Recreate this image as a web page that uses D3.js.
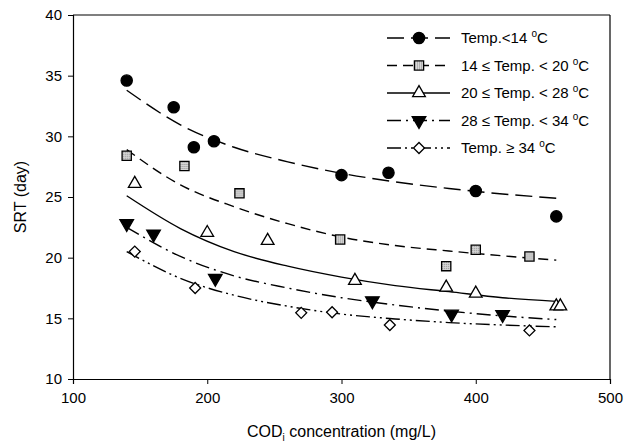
<!DOCTYPE html>
<html>
<head>
<meta charset="utf-8">
<script src="https://cdn.jsdelivr.net/npm/d3@7"></script>
<style>
  body { margin: 0; background: #fff; }
  text { font-family: Arial, "Liberation Sans", sans-serif; fill: #000; }
</style>
</head>
<body>
<div id="chart"></div>
<script>
// measured points, one list per temperature range
const seriesNames = ["Temp.<14 °C", "14 ≤ Temp. < 20 °C", "20 ≤ Temp. < 28 °C", "28 ≤ Temp. < 34 °C", "Temp. ≥ 34 °C"];

const lowX = [140, 175, 190, 205, 300, 335, 400, 460];
const lowY = [34.6, 32.4, 29.1, 29.6, 26.8, 27.0, 25.5, 23.4];

const coolX = [140, 183, 224, 299, 378, 400, 440];
const coolY = [28.4, 27.55, 25.3, 21.5, 19.3, 20.65, 20.1];

const midX = [146, 200, 245, 310, 378, 400, 460, 463];
const midY = [26.1, 22.05, 21.4, 18.1, 17.55, 17.05, 16.0, 16.0];

const warmX = [140, 160, 206, 323, 382, 420];
const warmY = [22.8, 21.95, 18.3, 16.45, 15.35, 15.3];

const hotX = [146, 191, 270, 293, 336, 440];
const hotY = [20.5, 17.5, 15.45, 15.5, 14.45, 14.0];

// fitted curves
const fitX = [140, 180, 220, 260, 300, 340, 380, 420, 460];
const lowFit = [33.8, 30.95, 29.1, 27.9, 26.95, 26.25, 25.7, 25.25, 24.9];
const coolFit = [28.9, 26.0, 24.2, 22.8, 21.7, 21.0, 20.55, 20.15, 19.8];
const midFit = [25.1, 22.4, 20.5, 19.3, 18.4, 17.7, 17.2, 16.7, 16.4];
const warmFit = [22.5, 20.1, 18.5, 17.5, 16.7, 16.1, 15.6, 15.2, 14.9];
const hotFit = [20.5, 18.3, 16.9, 16.0, 15.35, 14.95, 14.65, 14.45, 14.3];

const xTicks = [100, 200, 300, 400, 500];
const yTicks = [10, 15, 20, 25, 30, 35, 40];

const W = 634, H = 443;
const margin = {top: 15, right: 24, bottom: 64, left: 73};
const width = W - margin.left - margin.right,
      height = H - margin.top - margin.bottom;

const svg = d3.select("#chart").append("svg")
  .attr("width", W).attr("height", H);

// grey hatched fill for the squares
svg.append("defs").append("pattern")
    .attr("id", "hatch")
    .attr("width", 2).attr("height", 2)
    .attr("patternUnits", "userSpaceOnUse")
  .call(p => {
    p.append("rect").attr("width", 2).attr("height", 2).attr("fill", "#d8d8d8");
    p.append("rect").attr("width", 1).attr("height", 1).attr("fill", "#8a8a8a");
  });

const g = svg.append("g").attr("transform", `translate(${margin.left},${margin.top})`);

const x = d3.scaleLinear().domain([100, 500]).range([0, width]);
const y = d3.scaleLinear().domain([10, 40]).range([height, 0]);

// axes
const xAxis = g.append("g").attr("transform", `translate(0,${height})`)
  .call(d3.axisBottom(x).tickValues(xTicks).tickSize(5).tickPadding(8));
const yAxis = g.append("g")
  .call(d3.axisLeft(y).tickValues(yTicks).tickSize(5).tickPadding(6));
[xAxis, yAxis].forEach(a => {
  a.select(".domain").attr("stroke", "#000").attr("stroke-width", 1.2);
  a.selectAll(".tick line").attr("stroke", "#000");
  a.selectAll("text").style("font-size", "15px").attr("fill", "#000");
});

// top and right frame
g.append("line").attr("x1", 0).attr("x2", width).attr("y1", 0).attr("y2", 0)
  .attr("stroke", "#000").attr("stroke-width", 1.2);
g.append("line").attr("x1", width).attr("x2", width).attr("y1", 0).attr("y2", height)
  .attr("stroke", "#000").attr("stroke-width", 1.2);

// axis titles
const xt = svg.append("text")
  .attr("x", margin.left + width / 2).attr("y", 437)
  .attr("text-anchor", "middle").style("font-size", "16px");
xt.append("tspan").text("COD");
xt.append("tspan").text("i").style("font-size", "10px").attr("dy", 4);
xt.append("tspan").text(" concentration (mg/L)").attr("dy", -4);

svg.append("text")
  .attr("transform", `translate(26,${margin.top + height / 2}) rotate(-90)`)
  .attr("text-anchor", "middle").style("font-size", "16px")
  .text("SRT (day)");

// series styling
const series = [
  {xs: lowX, ys: lowY, fit: lowFit, dash: "17,7", shape: "circle"},
  {xs: coolX, ys: coolY, fit: coolFit, dash: "10,6", shape: "square"},
  {xs: midX, ys: midY, fit: midFit, dash: null, shape: "triangle"},
  {xs: warmX, ys: warmY, fit: warmFit, dash: "14,5,2,5", shape: "down"},
  {xs: hotX, ys: hotY, fit: hotFit, dash: "14,4,2,4,2,4", shape: "diamond"}
];

const symbols = {
  circle: {type: d3.symbolCircle, size: 100, fill: "#000"},
  square: {type: d3.symbolSquare, size: 85, fill: "url(#hatch)"},
  triangle: {type: d3.symbolTriangle, size: 70, fill: "#fff"},
  down: {type: d3.symbolTriangle, size: 80, fill: "#000", rot: 180},
  diamond: {type: d3.symbolSquare, size: 60, fill: "#fff", rot: 45}
};

function marker(sel, shape) {
  const s = symbols[shape];
  sel.append("path")
    .attr("d", d3.symbol().type(s.type).size(s.size))
    .attr("transform", function() {
      return this.parentNode.getAttribute("data-t") + (s.rot ? ` rotate(${s.rot})` : "");
    })
    .attr("fill", s.fill)
    .attr("stroke", "#000")
    .attr("stroke-width", 1.3);
}

const line = d3.line().curve(d3.curveMonotoneX)
  .x(d => x(d[0])).y(d => y(d[1]));

series.forEach(s => {
  g.append("path")
    .datum(fitX.map((v, i) => [v, s.fit[i]]))
    .attr("d", line)
    .attr("fill", "none")
    .attr("stroke", "#000")
    .attr("stroke-width", 1.4)
    .attr("stroke-dasharray", s.dash);

  s.xs.forEach((v, i) => {
    const holder = g.append("g").attr("data-t", `translate(${x(v)},${y(s.ys[i])})`);
    marker(holder, s.shape);
  });
});

// legend
const legend = svg.append("g").attr("transform", "translate(387,38)");
series.forEach((s, i) => {
  const row = legend.append("g").attr("transform", `translate(0,${i * 27.5})`);
  row.append("line")
    .attr("x1", 0).attr("x2", 63).attr("y1", 0).attr("y2", 0)
    .attr("stroke", "#000").attr("stroke-width", 1.4)
    .attr("stroke-dasharray", s.dash);
  const holder = row.append("g").attr("data-t", "translate(32,0)");
  marker(holder, s.shape);
  const label = seriesNames[i].replace(" °C", "");
  const t = row.append("text").attr("x", 74).attr("y", 5).style("font-size", "15px");
  t.append("tspan").text(label + " ");
  t.append("tspan").text("o").style("font-size", "10px").attr("dy", -6);
  t.append("tspan").text("C").attr("dy", 6);
});
</script>
</body>
</html>
